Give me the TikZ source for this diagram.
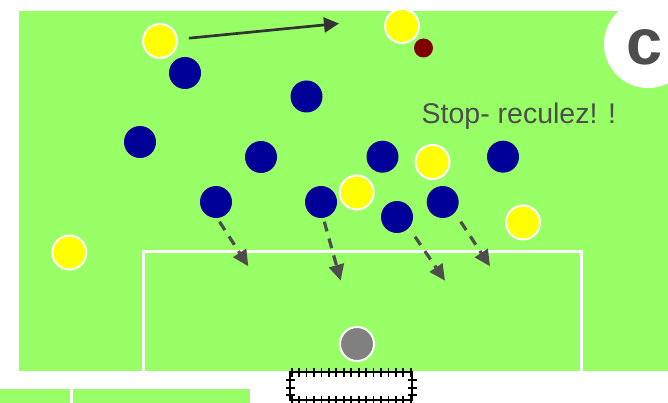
\documentclass[tikz,border=0pt]{standalone}
\usepackage{fontspec}
\setmainfont{Liberation Sans}
\usetikzlibrary{arrows.meta}
\definecolor{field}{RGB}{153,255,102}
\definecolor{pblue}{RGB}{0,0,153}
\definecolor{pyellow}{RGB}{255,255,0}
\definecolor{ink}{RGB}{77,77,77}
\definecolor{darkink}{RGB}{51,51,51}
\definecolor{ballred}{RGB}{128,0,0}
\definecolor{keepergray}{RGB}{128,128,128}
\begin{document}
\begin{tikzpicture}[x=1pt,y=-1pt,
  bluep/.style={circle,fill=pblue,minimum size=32pt,inner sep=0pt},
  yellowp/.style={circle,fill=pyellow,draw=white,line width=2pt,minimum size=34pt,inner sep=0pt},
  keeperp/.style={circle,fill=keepergray,draw=white,line width=2pt,minimum size=34pt,inner sep=0pt},
  ballp/.style={circle,fill=ballred,minimum size=19pt,inner sep=0pt},
  fieldline/.style={white,line width=3pt},
  runarrow/.style={darkink,line width=2.7pt,-{Triangle[length=15pt,width=15pt]}},
  moveback/.style={ink,line width=3.2pt,dash pattern=on 10pt off 7.5pt,-{Triangle[length=16pt,width=15pt]}},
  goalline/.style={black,line width=1.9pt},
  tick/.style={black,line width=1.8pt}]
\useasboundingbox (0,0) rectangle (668,403);
% field
\fill[field] (19,11) rectangle (668,371);
\fill[field] (0,389) rectangle (250,403);
\draw[fieldline] (71.5,389) -- (71.5,403);
\draw[fieldline] (143.3,371) -- (143.3,251.7) -- (581.3,251.7) -- (581.3,371);
% badge
\node[circle,fill=white,minimum size=88pt,inner sep=0pt] (badge) at (648,44) {};
\node[text=ink,font=\bfseries\fontsize{65}{65}\selectfont,inner sep=0pt] (label) at (645,47.5) {c};
% text
\node[anchor=base west,text=ink,font=\fontsize{28.5}{30}\selectfont,inner sep=0pt] (stop) at (421.5,123.3) {Stop- reculez! !};
% goal
\draw[goalline] (290,372) rectangle (412,399.8);
\foreach \i in {0,...,16}{
  \draw[tick] ({291.7+7.44*\i},367.5) -- ({291.7+7.44*\i},376.5);
  \draw[tick] ({291.7+7.44*\i},395.5) -- ({291.7+7.44*\i},403);
}
\foreach \yy in {380.3,388,395.3}{
  \draw[tick] (285.5,\yy) -- (294.5,\yy);
  \draw[tick] (407.5,\yy) -- (416.5,\yy);
}
% players
\node[yellowp] (y1) at (160,41) {};
\node[yellowp] (y2) at (402,26) {};
\node[yellowp] (y3) at (432.5,162) {};
\node[yellowp] (y4) at (356.7,192.5) {};
\node[yellowp] (y5) at (523,222.5) {};
\node[yellowp] (y6) at (69.3,252.5) {};
\node[ballp] (ball) at (423.5,48) {};
\node[bluep] (b1) at (185,73) {};
\node[bluep] (b2) at (306.5,96.5) {};
\node[bluep] (b3) at (140,142) {};
\node[bluep] (b4) at (261,157) {};
\node[bluep] (b5) at (382.5,156.7) {};
\node[bluep] (b6) at (503,156.7) {};
\node[bluep] (b7) at (216,202) {};
\node[bluep] (b8) at (321,202) {};
\node[bluep] (b9) at (397,217) {};
\node[bluep] (b10) at (442.7,202) {};
\node[keeperp] (keeper) at (357,344) {};
% arrows
\coordinate (runend) at (339,23.5);
\draw[runarrow,shorten <=11pt] (y1) -- (runend);
\coordinate (a1s) at (219.5,221.7);
\coordinate (a1e) at (248.3,266.3);
\coordinate (a2s) at (324.3,221.7);
\coordinate (a2e) at (340.7,280.7);
\coordinate (a3s) at (415,236.7);
\coordinate (a3e) at (445,280.7);
\coordinate (a4s) at (460.7,221.7);
\coordinate (a4e) at (490,266.3);
\draw[moveback] (a1s) -- (a1e);
\draw[moveback] (a2s) -- (a2e);
\draw[moveback] (a3s) -- (a3e);
\draw[moveback] (a4s) -- (a4e);
\end{tikzpicture}
\end{document}
